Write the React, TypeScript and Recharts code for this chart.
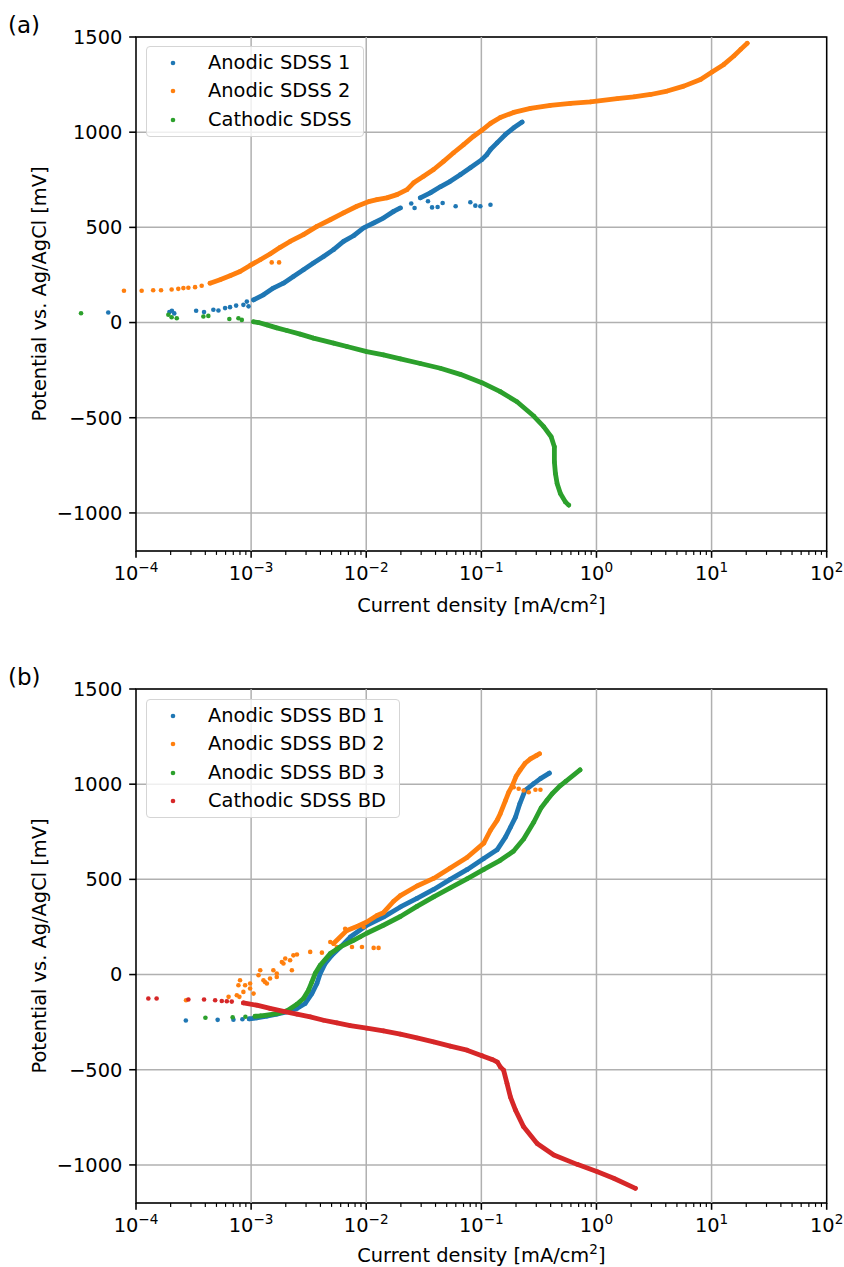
import React from 'react';
import {
  ScatterChart,
  Scatter,
  XAxis,
  YAxis,
  CartesianGrid,
  ReferenceLine,
  ReferenceArea,
  Legend,
  Label,
} from 'recharts';

type Pt = [number, number];

// ---- panel (a) ----
// current density [mA/cm2], potential [mV]
const anodic1Dots: Pt[] = [
  [5.74e-5, 53], [1.95e-4, 55], [2.05e-4, 62], [2.15e-4, 48], [3.33e-4, 62], [3.9e-4, 55],
  [4.7e-4, 67], [5.2e-4, 63], [5.94e-4, 76], [6.56e-4, 81], [7.41e-4, 89], [8.57e-4, 93],
  [9.18e-4, 110], [9.5e-4, 85],
  [2.46e-2, 625], [2.63e-2, 602], [3.44e-2, 637], [3.73e-2, 605], [4.17e-2, 607], [4.61e-2, 628],
  [5.98e-2, 611], [8.02e-2, 632], [8.87e-2, 614], [9.8e-2, 611], [0.12, 619],
];
const anodic1CurveLow: Pt[] = [
  [1.05e-3, 119], [1.28e-3, 146], [1.56e-3, 181], [1.91e-3, 207], [2.33e-3, 242], [2.85e-3, 277],
  [3.48e-3, 313], [4.26e-3, 347], [5.2e-3, 383], [6.35e-3, 426], [7.76e-3, 456], [9.49e-3, 497],
  [1.16e-2, 523], [1.41e-2, 549], [1.73e-2, 584], [1.98e-2, 602],
];
const anodic1CurveHigh: Pt[] = [
  [2.95e-2, 655], [3.6e-2, 681], [4.4e-2, 713], [5.37e-2, 742], [6.56e-2, 777], [8.02e-2, 813],
  [0.101, 856], [0.112, 883], [0.12, 909], [0.137, 944], [0.162, 988], [0.191, 1023], [0.226, 1053],
];

const anodic2Dots: Pt[] = [
  [7.86e-5, 167], [1.12e-4, 167], [1.41e-4, 170], [1.65e-4, 170], [2.04e-4, 174], [2.33e-4, 177],
  [2.58e-4, 181], [2.85e-4, 183], [3.26e-4, 186], [3.72e-4, 193],
  [1.51e-3, 316], [1.75e-3, 316],
];
const anodic2Curve: Pt[] = [
  [4.4e-4, 207], [5.37e-4, 225], [6.56e-4, 246], [8.01e-4, 268], [9.8e-4, 300], [1.2e-3, 330],
  [1.46e-3, 360], [1.79e-3, 395], [2.18e-3, 426], [2.85e-3, 462], [3.73e-3, 505], [4.87e-3, 540],
  [6.35e-3, 576], [8.3e-3, 611], [1.07e-2, 637], [1.24e-2, 646], [1.51e-2, 655], [1.85e-2, 672],
  [2.26e-2, 698], [2.58e-2, 734], [3.15e-2, 768], [3.85e-2, 804], [4.7e-2, 847], [5.74e-2, 892],
  [7.02e-2, 935], [8.57e-2, 979], [0.101, 1010], [0.12, 1046], [0.146, 1077], [0.191, 1104],
  [0.267, 1125], [0.398, 1141], [0.594, 1151], [0.887, 1159], [1.51, 1176], [2.11, 1186],
  [2.95, 1198], [4.12, 1216], [5.74, 1242], [8.02, 1277], [10.1, 1316], [12.8, 1356],
  [15.6, 1400], [17.9, 1435], [20.4, 1467],
];

const cathodicDots: Pt[] = [
  [3.33e-5, 49], [1.91e-4, 41], [2.04e-4, 28], [2.26e-4, 23], [3.85e-4, 32], [4.25e-4, 35],
  [6.47e-4, 19], [7.76e-4, 23], [8.3e-4, 14],
];
const cathodicCurve: Pt[] = [
  [1.05e-3, 4], [1.16e-3, 0], [1.37e-3, -12], [1.67e-3, -28], [2.04e-3, -42], [2.67e-3, -61],
  [3.48e-3, -82], [5.2e-3, -108], [6.79e-3, -126], [1.01e-2, -153], [1.41e-2, -170],
  [1.98e-2, -191], [2.95e-2, -215], [4.4e-2, -240], [6.56e-2, -272], [0.101, -316],
  [0.146, -363], [0.204, -416], [0.285, -491], [0.348, -547], [0.404, -600], [0.431, -653],
  [0.431, -732], [0.44, -793], [0.455, -845], [0.486, -898], [0.537, -942], [0.574, -959],
];

// ---- panel (b) ----
const bd1Dots: Pt[] = [[2.71e-4, -241], [5.12e-4, -238], [7.02e-4, -237], [8.4e-4, -235]];
const bd1Curve: Pt[] = [
  [9.62e-4, -233], [1.12e-3, -228], [1.37e-3, -219], [1.67e-3, -208], [2.04e-3, -196],
  [2.5e-3, -178], [2.95e-3, -152], [3.37e-3, -100], [3.73e-3, -47], [3.98e-3, 5], [4.4e-3, 58],
  [5.03e-3, 101], [5.94e-3, 143], [7.26e-3, 197], [1.01e-2, 259], [1.41e-2, 302],
  [1.98e-2, 355], [2.76e-2, 400], [3.85e-2, 447], [5.37e-2, 500], [7.51e-2, 551], [0.105, 609],
  [0.137, 655], [0.162, 722], [0.179, 774], [0.198, 827], [0.216, 898], [0.24, 968],
  [0.285, 1003], [0.326, 1029], [0.39, 1058],
];

const bd2Dots: Pt[] = [
  [2.72e-4, -135], [6.37e-4, -117], [7.51e-4, -109], [7.76e-4, -56], [7.91e-4, -117],
  [8.01e-4, -30], [8.57e-4, -91], [8.87e-4, -56], [9.8e-4, -73], [9.8e-4, -47], [1.05e-3, -100],
  [1.16e-3, -4], [1.2e-3, 23], [1.28e-3, -30], [1.32e-3, -39], [1.37e-3, -47], [1.46e-3, -21],
  [1.56e-3, 23], [1.67e-3, 5], [1.67e-3, -13], [1.85e-3, 66], [1.91e-3, 58], [1.98e-3, 84],
  [2.18e-3, 75], [2.26e-3, 23], [2.33e-3, 101], [2.5e-3, 105], [3.26e-3, 119], [4.12e-3, 115],
  [4.87e-3, 171], [5.56e-3, 145], [6.56e-3, 241], [7.52e-3, 145], [8.87e-3, 197],
  [9.18e-3, 145], [9.49e-3, 250], [1.16e-2, 140], [1.28e-2, 140],
  [0.191, 984], [0.211, 976], [0.233, 967], [0.258, 958], [0.295, 971], [0.326, 971],
];
const bd2Curve: Pt[] = [
  [5.2e-3, 163], [6.79e-3, 232], [8.5e-3, 255], [1.01e-2, 276], [1.24e-2, 310], [1.41e-2, 325],
  [1.73e-2, 385], [1.98e-2, 415], [2.76e-2, 465], [3.85e-2, 505], [5.37e-2, 560],
  [7.51e-2, 615], [0.105, 690], [0.12, 758], [0.137, 810], [0.146, 845], [0.162, 914],
  [0.173, 958], [0.185, 990], [0.2, 1040], [0.218, 1075], [0.24, 1110], [0.267, 1133],
  [0.3, 1150], [0.32, 1160],
];

const bd3Dots: Pt[] = [[4.01e-4, -227], [6.91e-4, -224], [8.92e-4, -222]];
const bd3Curve: Pt[] = [
  [1.08e-3, -219], [1.2e-3, -217], [1.32e-3, -214], [1.67e-3, -205], [2.04e-3, -191],
  [2.5e-3, -156], [2.85e-3, -126], [3.15e-3, -82], [3.37e-3, -39], [3.6e-3, 5], [3.98e-3, 49],
  [4.87e-3, 110], [5.94e-3, 145], [7.76e-3, 180], [1.01e-2, 217], [1.41e-2, 259],
  [1.98e-2, 305], [2.76e-2, 358], [3.85e-2, 408], [5.37e-2, 455], [7.51e-2, 503],
  [0.105, 552], [0.146, 600], [0.19, 648], [0.233, 712], [0.285, 800], [0.33, 875],
  [0.37, 914], [0.412, 950], [0.486, 993], [0.541, 1015], [0.72, 1075],
];

const bdCathDots: Pt[] = [
  [1.28e-4, -126], [1.51e-4, -126], [2.85e-4, -131], [3.9e-4, -131], [4.87e-4, -135],
  [5.56e-4, -139], [6.15e-4, -140], [6.79e-4, -142],
];
const bdCathCurve: Pt[] = [
  [8.57e-4, -149], [1.12e-3, -161], [1.46e-3, -178], [1.91e-3, -193], [2.5e-3, -208],
  [3.26e-3, -222], [4.26e-3, -240], [5.56e-3, -254], [7.26e-3, -268], [1.01e-2, -282],
  [1.41e-2, -296], [1.98e-2, -313], [2.76e-2, -333], [3.85e-2, -354], [5.37e-2, -376],
  [7.51e-2, -397], [0.101, -426], [0.124, -446], [0.138, -460], [0.146, -485], [0.156, -502],
  [0.167, -572], [0.179, -644], [0.198, -712], [0.233, -800], [0.305, -887], [0.426, -948],
  [0.679, -997], [1.02, -1036], [1.41, -1070], [2.18, -1123],
];

// ---- axes ----
const xMajor = [1e-4, 1e-3, 1e-2, 1e-1, 1, 10, 100];
const xMinor = xMajor.slice(0, -1).flatMap((d) => [2, 3, 4, 5, 6, 7, 8, 9].map((m) => m * d));
const yTicks = [-1000, -500, 0, 500, 1000, 1500];

const BLUE = '#1f77b4';
const ORANGE = '#ff7f0e';
const GREEN = '#2ca02c';
const RED = '#d62728';

interface Series {
  name: string;
  color: string;
  dots: Pt[];
  curves: Pt[][];
}

const seriesA: Series[] = [
  { name: 'Anodic SDSS 1', color: BLUE, dots: anodic1Dots, curves: [anodic1CurveLow, anodic1CurveHigh] },
  { name: 'Anodic SDSS 2', color: ORANGE, dots: anodic2Dots, curves: [anodic2Curve] },
  { name: 'Cathodic SDSS', color: GREEN, dots: cathodicDots, curves: [cathodicCurve] },
];

const seriesB: Series[] = [
  { name: 'Anodic SDSS BD 1', color: BLUE, dots: bd1Dots, curves: [bd1Curve] },
  { name: 'Anodic SDSS BD 2', color: ORANGE, dots: bd2Dots, curves: [bd2Curve] },
  { name: 'Anodic SDSS BD 3', color: GREEN, dots: bd3Dots, curves: [bd3Curve] },
  { name: 'Cathodic SDSS BD', color: RED, dots: bdCathDots, curves: [bdCathCurve] },
];

const toXY = (pts: Pt[]) => pts.map(([x, y]) => ({ x, y }));

const FONT = 19.4;
const PLOT_LEFT = 136;
const PLOT_RIGHT = 826.7;
const PLOT_TOP = 37;
const PLOT_BOTTOM = 551;

// log axis tick: long tick + 10^n label for decades, short tick for minors
const LogTick = (props: any) => {
  const { x, y, payload } = props;
  const v = payload.value;
  const exp = Math.round(Math.log10(v));
  const major = Math.abs(v / Math.pow(10, exp) - 1) < 1e-6;
  return (
    <g>
      <line x1={x} x2={x} y1={y} y2={y + (major ? 6.8 : 3.9)} stroke="#000" strokeWidth={major ? 1.56 : 1.17} />
      {major && (
        <text x={x} y={y + 29} textAnchor="middle" fontSize={FONT} fill="#000">
          10
          <tspan dy={-8.5} fontSize={13.6}>
            {exp < 0 ? `\u2212${-exp}` : `${exp}`}
          </tspan>
        </text>
      )}
    </g>
  );
};

const XTitle = ({ offset }: { offset: number }) => (
  <text x={(PLOT_LEFT + PLOT_RIGHT) / 2} y={PLOT_BOTTOM + offset} textAnchor="middle" fontSize={FONT} fill="#000">
    Current density [mA/cm
    <tspan dy={-8} fontSize={13.6}>2</tspan>
    <tspan dy={8}>]</tspan>
  </text>
);

const YTitle = () => (
  <text
    transform={`translate(46 ${(PLOT_TOP + PLOT_BOTTOM) / 2}) rotate(-90)`}
    textAnchor="middle"
    fontSize={FONT}
    fill="#000"
  >
    Potential vs. Ag/AgCl [mV]
  </text>
);

const LegendBox = ({ series, width }: { series: Series[]; width: number }) => (
  <div
    style={{
      boxSizing: 'border-box',
      width,
      padding: '1.8px 0 2px 0',
      border: '1.2px solid #d5d5d5',
      borderRadius: 4,
      background: 'rgba(255,255,255,0.8)',
      fontSize: FONT,
      color: '#000',
    }}
  >
    {series.map((s) => (
      <div key={s.name} style={{ position: 'relative', height: 28.4, lineHeight: '28.4px' }}>
        <svg width={10} height={10} style={{ position: 'absolute', left: 21, top: 9.2 }}>
          <circle cx={5} cy={5} r={2.3} fill={s.color} />
        </svg>
        <span style={{ position: 'absolute', left: 61, top: 0, whiteSpace: 'nowrap' }}>{s.name}</span>
      </div>
    ))}
  </div>
);

const dotShape = (color: string) => (p: any) => <circle cx={p.cx} cy={p.cy} r={2.3} fill={color} />;

interface PanelProps {
  tag: string;
  series: Series[];
  height: number;
  legendWidth: number;
  legendTop: number;
  titleOffset: number;
}

const Panel: React.FC<PanelProps> = ({ tag, series, height, legendWidth, legendTop, titleOffset }) => (
  <ScatterChart
    width={844}
    height={height}
    margin={{ top: PLOT_TOP, right: 844 - PLOT_RIGHT, bottom: height - PLOT_BOTTOM - 30, left: PLOT_LEFT - 60 }}
  >
    <XAxis
      type="number"
      dataKey="x"
      scale="log"
      domain={[1e-4, 100]}
      allowDataOverflow
      ticks={[...xMajor, ...xMinor]}
      interval={0}
      tick={<LogTick />}
      tickLine={false}
      tickSize={0}
      tickMargin={0}
      axisLine={false}
      height={30}
    >
      <Label content={() => <XTitle offset={titleOffset} />} />
    </XAxis>
    <YAxis
      type="number"
      dataKey="y"
      domain={[-1200, 1500]}
      ticks={yTicks}
      interval={0}
      width={60}
      axisLine={false}
      tickSize={6.8}
      tickMargin={6.8}
      tickLine={{ stroke: '#000', strokeWidth: 1.56 }}
      tick={{ fill: '#000', fontSize: FONT }}
      tickFormatter={(v: number) => (v < 0 ? `\u2212${-v}` : `${v}`)}
    >
      <Label content={() => <YTitle />} />
      <Label
        content={() => (
          <text x={8} y={33} fontSize={23} fill="#000">
            {tag}
          </text>
        )}
      />
    </YAxis>
    {series.flatMap((s) => [
      <Scatter
        key={`${s.name}-dots`}
        name={s.name}
        data={toXY(s.dots)}
        fill={s.color}
        shape={dotShape(s.color)}
        isAnimationActive={false}
      />,
      ...s.curves.map((c, i) => (
        <Scatter
          key={`${s.name}-curve-${i}`}
          data={toXY(c)}
          fill={s.color}
          line={{ strokeWidth: 4.8, strokeLinecap: 'round', strokeLinejoin: 'round' }}
          lineType="joint"
          shape={dotShape(s.color)}
          legendType="none"
          isAnimationActive={false}
        />
      )),
    ])}
    <CartesianGrid vertical={false} stroke="#b0b0b0" strokeWidth={1.5} />
    {xMajor.slice(1, -1).map((v) => (
      <ReferenceLine key={v} x={v} stroke="#b0b0b0" strokeWidth={1.5} />
    ))}
    <ReferenceArea x1={1e-4} x2={100} y1={-1200} y2={1500} fill="none" fillOpacity={0} stroke="#000" strokeWidth={1.56} />
    <Legend
      layout="vertical"
      align="center"
      verticalAlign="middle"
      wrapperStyle={{ left: 146, top: legendTop, width: legendWidth }}
      content={() => <LegendBox series={series} width={legendWidth} />}
    />
  </ScatterChart>
);

export default function App() {
  return (
    <div
      className="fig"
      style={{
        position: 'absolute',
        left: 0,
        top: 0,
        width: 844,
        height: 1267,
        overflow: 'hidden',
        background: '#fff',
        fontFamily: '"DejaVu Sans", sans-serif',
      }}
    >
      {/* points below 1e-4 are drawn past the left spine, as in the original */}
      <style>{'.fig .recharts-scatter, .fig .recharts-scatter [clip-path] { clip-path: none !important; }'}</style>
      <div style={{ position: 'absolute', left: 0, top: 0 }}>
        <Panel tag="(a)" series={seriesA} height={630} legendWidth={218} legendTop={46} titleOffset={61} />
      </div>
      <div style={{ position: 'absolute', left: 0, top: 652 }}>
        <Panel tag="(b)" series={seriesB} height={615} legendWidth={254} legendTop={47} titleOffset={59} />
      </div>
    </div>
  );
}
